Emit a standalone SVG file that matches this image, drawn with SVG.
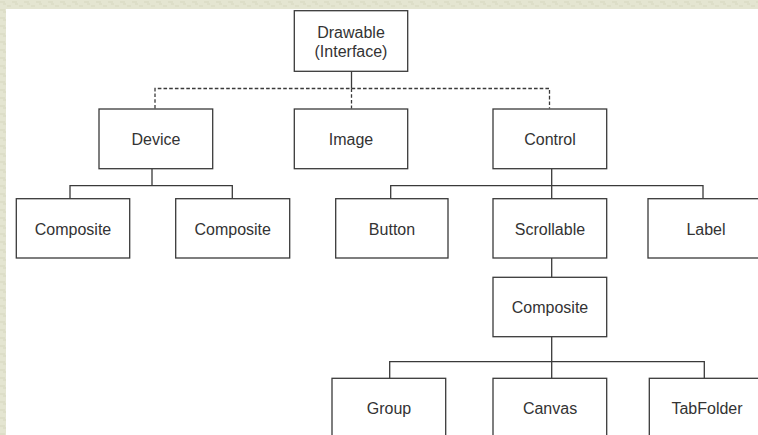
<svg xmlns="http://www.w3.org/2000/svg" width="758" height="435" viewBox="0 0 758 435">
<defs>
<style>
.box{fill:#fff;stroke:#3a3a3a;stroke-width:1.3}
.t{font-family:"Liberation Sans",Arial,sans-serif;font-size:16px;fill:#333;text-anchor:middle}
.c{fill:none;stroke:#3a3a3a;stroke-width:1.3}
.d{fill:none;stroke:#3a3a3a;stroke-width:1.3;stroke-dasharray:3.6 2.1}
</style>
<pattern id="tex" width="12" height="8" patternUnits="userSpaceOnUse">
<rect width="12" height="8" fill="#e4e5d1"/>
<path d="M0 2h5M7 6h4M3 4h3" stroke="#d6d8c0" stroke-width="1"/>
</pattern>
</defs>
<rect width="758" height="435" fill="url(#tex)"/>
<rect x="6" y="9" width="752" height="426" fill="#fff"/>
<g id="connectors">
<path class="c" d="M351.5 71V88.5"/>
<path class="d" d="M155 108.5V88.5H549.5V108.5M351.5 88.5V108.5"/>
<path class="c" d="M152 169V185.7M70 198.7V185.7H232.3V198.7"/>
<path class="c" d="M551.7 169V198.7M390.7 198.7V185.7H703V198.7"/>
<path class="c" d="M551.7 258V277.3"/>
<path class="c" d="M551.7 337V378.3M389.7 378.3V361.7H704.3V378.3"/>
</g>
<g id="drawable"><rect class="box" x="294.3" y="10.7" width="113.4" height="60.6"/><text class="t" x="351" y="37.5">Drawable</text><text class="t" x="351" y="57">(Interface)</text></g>
<g id="device"><rect class="box" x="99" y="109" width="113.7" height="59.7"/><text class="t" x="156" y="144.5">Device</text></g>
<g id="image"><rect class="box" x="294.3" y="109" width="113.4" height="59.7"/><text class="t" x="351" y="144.5">Image</text></g>
<g id="control"><rect class="box" x="493" y="109" width="113.7" height="59.7"/><text class="t" x="550" y="144.5">Control</text></g>
<g id="composite1"><rect class="box" x="16.3" y="198.7" width="113.4" height="59.3"/><text class="t" x="73" y="234.5">Composite</text></g>
<g id="composite2"><rect class="box" x="175.7" y="198.7" width="114" height="59.3"/><text class="t" x="232.7" y="234.5">Composite</text></g>
<g id="button"><rect class="box" x="335.7" y="198.7" width="112.3" height="59.3"/><text class="t" x="392" y="234.5">Button</text></g>
<g id="scrollable"><rect class="box" x="493" y="198.7" width="113.7" height="59.3"/><text class="t" x="550" y="234.5">Scrollable</text></g>
<g id="label"><rect class="box" x="648" y="198.7" width="114" height="59.3"/><text class="t" x="706" y="234.5">Label</text></g>
<g id="composite3"><rect class="box" x="493" y="277.3" width="113.7" height="59.4"/><text class="t" x="550" y="312.5">Composite</text></g>
<g id="group"><rect class="box" x="332" y="378.3" width="113.7" height="62"/><text class="t" x="389" y="414">Group</text></g>
<g id="canvas"><rect class="box" x="493" y="378.3" width="113.7" height="62"/><text class="t" x="550" y="414">Canvas</text></g>
<g id="tabfolder"><rect class="box" x="649.3" y="378.3" width="114" height="62"/><text class="t" x="707" y="414">TabFolder</text></g>
</svg>
